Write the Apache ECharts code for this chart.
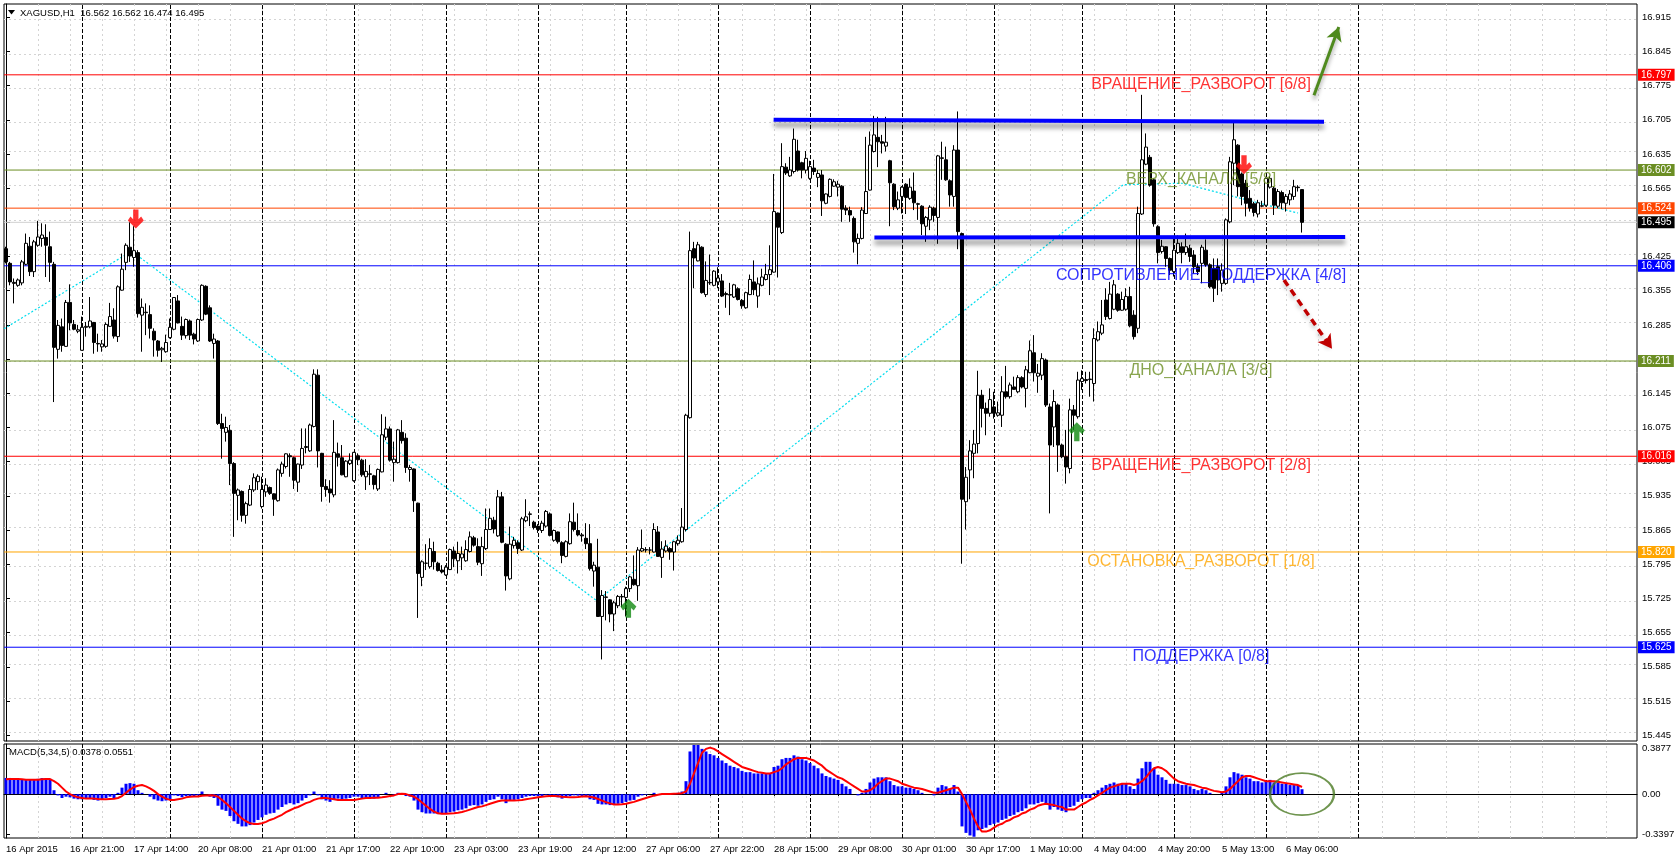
<!DOCTYPE html>
<html><head><meta charset="utf-8">
<script src="https://cdn.jsdelivr.net/npm/echarts@6/dist/echarts.min.js"></script>
<style>html,body{margin:0;padding:0;background:#fff}#c{width:1678px;height:860px}</style>
</head><body><div id="c"></div>
<script>
// ---------- DATA (XAGUSD H1, one value per bar) ----------
const open = [
16.441,16.411,16.372,16.366,16.371,16.409,16.446,16.394,16.448,16.462,
16.464,16.445,16.409,16.235,16.281,16.241,16.331,16.286,16.272,16.233,
16.280,16.281,16.290,16.247,16.240,16.241,16.282,16.295,16.261,16.356,
16.413,16.444,16.423,16.433,16.305,16.310,16.306,16.272,16.252,16.234,
16.230,16.259,16.276,16.334,16.282,16.263,16.293,16.266,16.252,16.295,
16.364,16.320,16.247,16.252,16.083,16.065,16.069,16.001,15.936,15.944,
15.895,15.916,15.947,15.964,15.913,15.943,15.952,15.939,15.925,15.981,
15.995,16.017,16.013,15.963,15.998,16.034,16.027,16.077,16.182,16.022,
15.954,15.949,15.937,16.021,16.013,15.974,16.001,15.966,16.017,16.008,
15.974,15.980,15.976,15.949,15.984,16.055,16.072,16.003,16.003,16.065,
16.053,15.989,15.990,15.920,15.768,15.797,15.790,15.821,15.797,15.783,
15.773,15.784,15.822,15.802,15.808,15.802,15.821,15.849,15.831,15.796,
15.827,15.866,15.885,15.853,15.933,15.836,15.765,15.833,15.839,15.824,
15.884,15.897,15.881,15.873,15.864,15.873,15.898,15.844,15.861,15.839,
15.811,15.837,15.881,15.864,15.855,15.848,15.837,15.781,15.789,15.688,
15.727,15.722,15.693,15.710,15.728,15.727,15.745,15.764,15.751,15.822,
15.824,15.824,15.820,15.861,15.809,15.822,15.827,15.820,15.837,15.841,
15.866,16.095,16.441,16.416,16.444,16.347,16.371,16.366,16.373,16.375,
16.349,16.347,16.342,16.359,16.335,16.320,16.347,16.373,16.344,16.366,
16.378,16.388,16.393,16.514,16.474,16.608,16.590,16.599,16.641,16.617,
16.602,16.585,16.606,16.587,16.592,16.534,16.548,16.569,16.567,16.569,
16.524,16.519,16.503,16.452,16.462,16.513,16.561,16.640,16.669,16.660,
16.651,16.621,16.573,16.524,16.548,16.573,16.544,16.559,16.533,16.528,
16.487,16.500,16.524,16.505,16.627,16.623,16.580,16.548,16.643,16.472,
15.923,15.988,16.022,16.042,16.141,16.114,16.104,16.117,16.100,16.100,
16.148,16.138,16.158,16.148,16.177,16.155,16.187,16.228,16.180,16.182,
16.213,16.117,16.076,16.121,16.039,16.015,15.991,16.111,16.097,16.169,
16.173,16.173,16.165,16.254,16.268,16.336,16.298,16.317,16.348,16.315,
16.317,16.343,16.305,16.278,16.512,16.614,16.628,16.582,16.486,16.435,
16.445,16.421,16.394,16.433,16.445,16.433,16.442,16.428,16.404,16.411,
16.438,16.408,16.401,16.404,16.370,16.370,16.496,16.616,16.653,16.594,
16.575,16.544,16.533,16.512,16.528,16.530,16.567,16.565,16.528,16.556,
16.534,16.541,16.548,16.567,16.562];
const high = [
16.445,16.414,16.380,16.380,16.418,16.472,16.465,16.459,16.498,16.493,
16.491,16.476,16.414,16.295,16.298,16.336,16.368,16.295,16.285,16.302,
16.291,16.342,16.291,16.267,16.254,16.290,16.330,16.319,16.366,16.431,
16.452,16.495,16.487,16.438,16.339,16.329,16.325,16.278,16.254,16.240,
16.265,16.298,16.342,16.346,16.302,16.298,16.296,16.269,16.298,16.368,
16.366,16.325,16.267,16.254,16.103,16.097,16.080,16.004,15.950,15.946,
15.923,15.957,15.981,15.979,15.974,15.971,15.954,15.940,15.991,16.005,
16.022,16.022,16.015,16.001,16.073,16.073,16.083,16.194,16.194,16.023,
15.969,15.967,16.090,16.044,16.039,16.008,16.022,16.025,16.022,16.011,
16.010,15.998,15.978,15.991,16.102,16.097,16.077,16.046,16.072,16.090,
16.063,15.998,15.991,15.921,15.803,15.836,15.848,15.841,15.800,15.793,
15.793,15.827,15.831,15.841,15.831,15.844,15.862,15.853,15.848,15.851,
15.909,15.909,15.892,15.947,15.943,15.838,15.872,15.851,15.844,15.892,
15.928,15.903,15.884,15.877,15.884,15.906,15.901,15.866,15.862,15.842,
15.844,15.899,15.921,15.899,15.859,15.879,15.877,15.800,15.847,15.742,
15.740,15.723,15.720,15.732,15.734,15.749,15.771,15.813,15.830,15.866,
15.830,15.830,15.879,15.873,15.842,15.844,15.830,15.842,15.854,15.910,
16.103,16.476,16.455,16.455,16.446,16.415,16.429,16.397,16.403,16.389,
16.353,16.371,16.369,16.362,16.338,16.353,16.388,16.417,16.382,16.400,
16.410,16.448,16.594,16.515,16.657,16.616,16.629,16.687,16.664,16.619,
16.641,16.621,16.623,16.602,16.602,16.554,16.585,16.583,16.580,16.571,
16.530,16.527,16.507,16.472,16.526,16.670,16.681,16.713,16.711,16.674,
16.711,16.623,16.575,16.558,16.569,16.575,16.585,16.597,16.535,16.530,
16.508,16.530,16.527,16.633,16.660,16.650,16.583,16.653,16.722,16.474,
15.994,16.049,16.070,16.191,16.152,16.126,16.155,16.148,16.128,16.180,
16.201,16.167,16.179,16.182,16.180,16.201,16.253,16.264,16.205,16.227,
16.216,16.124,16.152,16.124,16.042,16.070,16.134,16.121,16.189,16.192,
16.189,16.189,16.278,16.292,16.336,16.360,16.373,16.377,16.350,16.353,
16.360,16.363,16.315,16.527,16.756,16.677,16.633,16.585,16.489,16.459,
16.446,16.423,16.466,16.468,16.454,16.472,16.449,16.438,16.411,16.449,
16.460,16.411,16.421,16.421,16.411,16.503,16.629,16.701,16.655,16.597,
16.582,16.561,16.537,16.541,16.539,16.587,16.590,16.569,16.563,16.560,
16.553,16.561,16.582,16.571,16.562];
const low = [
16.411,16.366,16.329,16.363,16.366,16.407,16.385,16.383,16.445,16.445,
16.383,16.373,16.127,16.216,16.230,16.240,16.274,16.274,16.268,16.232,
16.261,16.278,16.226,16.230,16.230,16.238,16.281,16.257,16.250,16.355,
16.397,16.414,16.404,16.300,16.230,16.264,16.257,16.220,16.220,16.209,
16.228,16.257,16.274,16.288,16.254,16.257,16.254,16.245,16.250,16.293,
16.305,16.250,16.216,16.080,16.011,16.046,15.957,15.851,15.885,15.882,
15.878,15.914,15.943,15.947,15.909,15.933,15.937,15.894,15.923,15.974,
15.991,15.974,15.949,15.943,15.990,16.022,16.025,16.075,15.993,15.923,
15.933,15.921,15.932,15.995,15.977,15.973,15.998,15.964,15.998,15.974,
15.947,15.957,15.948,15.945,15.983,16.049,16.005,15.964,16.001,16.042,
15.982,15.964,15.902,15.685,15.750,15.783,15.786,15.784,15.780,15.776,
15.771,15.783,15.789,15.776,15.783,15.800,15.819,15.831,15.793,15.771,
15.824,15.865,15.858,15.851,15.838,15.741,15.762,15.827,15.816,15.822,
15.881,15.873,15.866,15.859,15.859,15.870,15.852,15.841,15.837,15.797,
15.809,15.835,15.862,15.852,15.841,15.826,15.782,15.749,15.687,15.600,
15.680,15.676,15.658,15.705,15.707,15.688,15.738,15.751,15.720,15.820,
15.819,15.815,15.819,15.810,15.767,15.819,15.804,15.782,15.833,15.839,
15.862,16.093,16.360,16.415,16.349,16.342,16.367,16.364,16.360,16.342,
16.320,16.305,16.340,16.335,16.318,16.318,16.346,16.346,16.320,16.364,
16.376,16.346,16.392,16.382,16.471,16.592,16.588,16.595,16.599,16.585,
16.595,16.582,16.592,16.567,16.508,16.532,16.546,16.568,16.548,16.496,
16.510,16.496,16.433,16.409,16.460,16.512,16.560,16.638,16.608,16.636,
16.640,16.487,16.520,16.520,16.513,16.512,16.541,16.520,16.500,16.469,
16.455,16.479,16.496,16.451,16.582,16.580,16.527,16.527,16.440,15.796,
15.866,15.928,15.971,16.022,16.075,16.059,16.097,16.093,16.097,16.076,
16.134,16.134,16.152,16.145,16.155,16.116,16.186,16.169,16.146,16.172,
16.117,15.899,16.035,15.984,16.012,15.960,15.981,16.070,16.093,16.152,
16.165,16.138,16.128,16.251,16.264,16.295,16.296,16.315,16.312,16.314,
16.314,16.280,16.255,16.268,16.510,16.612,16.568,16.486,16.411,16.431,
16.404,16.387,16.384,16.430,16.411,16.428,16.414,16.390,16.387,16.370,
16.404,16.360,16.332,16.346,16.353,16.367,16.493,16.571,16.548,16.530,
16.507,16.517,16.507,16.505,16.526,16.527,16.564,16.510,16.524,16.522,
16.517,16.530,16.541,16.558,16.474];
const close = [
16.414,16.373,16.370,16.377,16.414,16.452,16.394,16.455,16.465,16.469,
16.448,16.413,16.239,16.284,16.243,16.331,16.289,16.276,16.275,16.280,
16.282,16.293,16.249,16.246,16.246,16.286,16.302,16.262,16.363,16.399,
16.448,16.426,16.437,16.308,16.321,16.311,16.278,16.254,16.233,16.237,
16.249,16.280,16.341,16.289,16.264,16.296,16.264,16.256,16.296,16.366,
16.307,16.252,16.256,16.083,16.073,16.075,16.001,15.940,15.947,15.895,
15.919,15.948,15.972,15.975,15.948,15.957,15.940,15.928,15.988,16.000,
16.021,16.015,15.967,16.000,16.032,16.036,16.080,16.184,16.027,15.954,
15.948,15.941,16.024,16.014,15.978,16.006,16.008,16.024,16.009,15.978,
15.985,15.979,15.958,15.989,16.060,16.072,16.008,16.010,16.070,16.048,
15.993,15.993,15.925,15.776,15.800,15.797,15.827,15.800,15.782,15.779,
15.789,15.825,15.806,15.817,15.816,15.825,15.851,15.834,15.799,15.831,
15.866,15.889,15.867,15.933,15.840,15.771,15.836,15.844,15.827,15.888,
15.892,15.898,15.870,15.866,15.879,15.903,15.854,15.864,15.841,15.813,
15.841,15.882,15.866,15.855,15.853,15.837,15.786,15.793,15.688,15.731,
15.728,15.693,15.716,15.729,15.729,15.745,15.769,15.753,15.824,15.827,
15.825,15.824,15.866,15.811,15.826,15.832,15.820,15.841,15.844,15.871,
16.100,16.437,16.422,16.449,16.351,16.376,16.372,16.395,16.381,16.344,
16.347,16.346,16.367,16.337,16.324,16.351,16.378,16.357,16.369,16.383,
16.388,16.398,16.517,16.485,16.609,16.596,16.602,16.665,16.602,16.602,
16.626,16.609,16.599,16.595,16.539,16.553,16.583,16.578,16.573,16.522,
16.520,16.510,16.455,16.462,16.520,16.558,16.653,16.674,16.660,16.657,
16.659,16.576,16.527,16.541,16.567,16.546,16.567,16.535,16.532,16.492,
16.505,16.526,16.509,16.631,16.626,16.582,16.551,16.643,16.476,15.928,
15.973,16.027,16.041,16.141,16.114,16.104,16.132,16.104,16.105,16.148,
16.138,16.162,16.153,16.177,16.158,16.193,16.232,16.187,16.186,16.216,
16.121,16.039,16.128,16.039,16.015,15.994,16.111,16.100,16.172,16.175,
16.171,16.174,16.257,16.271,16.285,16.302,16.348,16.367,16.315,16.337,
16.343,16.283,16.261,16.513,16.623,16.649,16.571,16.492,16.433,16.446,
16.421,16.397,16.438,16.452,16.433,16.445,16.425,16.404,16.394,16.444,
16.408,16.363,16.360,16.377,16.397,16.500,16.619,16.664,16.568,16.548,
16.534,16.524,16.515,16.535,16.529,16.585,16.585,16.530,16.558,16.535,
16.548,16.553,16.568,16.566,16.495];

// MACD(5,34,5): main (histogram) and signal, one value per bar
const macdMain = [
0.125,0.125,0.122,0.118,0.112,0.112,0.112,0.112,0.118,0.124,0.124,0.118,
0.03,-0.01,-0.03,-0.02,-0.025,-0.035,-0.04,-0.04,-0.035,-0.03,-0.045,-0.05,
-0.045,-0.03,-0.02,-0.03,0.01,0.05,0.08,0.085,0.08,0.03,0.01,0.0,
-0.02,-0.04,-0.05,-0.055,-0.05,-0.04,-0.01,-0.015,-0.025,-0.015,-0.02,-0.02,
-0.01,0.02,0.0,-0.02,-0.03,-0.09,-0.12,-0.13,-0.17,-0.21,-0.23,-0.25,
-0.25,-0.24,-0.22,-0.2,-0.18,-0.16,-0.15,-0.145,-0.12,-0.1,-0.08,-0.07,
-0.08,-0.07,-0.05,-0.03,-0.01,0.02,-0.01,-0.04,-0.05,-0.06,-0.04,-0.035,
-0.04,-0.035,-0.03,-0.02,-0.02,-0.03,-0.03,-0.03,-0.035,-0.025,0.0,0.01,
0.0,-0.005,0.01,0.005,-0.015,-0.02,-0.05,-0.12,-0.14,-0.15,-0.15,-0.15,
-0.155,-0.155,-0.15,-0.14,-0.135,-0.125,-0.12,-0.11,-0.09,-0.085,-0.09,-0.08,
-0.06,-0.045,-0.04,-0.02,-0.04,-0.07,-0.05,-0.045,-0.04,-0.03,-0.02,-0.015,
-0.015,-0.015,-0.015,-0.005,-0.015,-0.02,-0.025,-0.035,-0.03,-0.015,-0.01,-0.012,
-0.015,-0.02,-0.04,-0.045,-0.075,-0.08,-0.08,-0.085,-0.08,-0.075,-0.07,-0.06,
-0.05,-0.045,-0.02,-0.01,-0.005,0.0,0.01,0.0,-0.005,0.0,0.0,0.005,
0.01,0.02,0.1,0.33,0.38,0.38,0.35,0.33,0.31,0.30,0.28,0.26,
0.24,0.22,0.21,0.2,0.18,0.17,0.17,0.16,0.16,0.16,0.16,0.16,
0.21,0.22,0.27,0.28,0.28,0.3,0.29,0.27,0.26,0.24,0.22,0.2,
0.16,0.14,0.13,0.12,0.11,0.08,0.06,0.04,0.0,-0.01,0.01,0.04,
0.09,0.12,0.13,0.13,0.13,0.1,0.07,0.06,0.06,0.05,0.05,0.04,
0.03,0.01,0.0,0.0,-0.01,0.05,0.07,0.06,0.04,0.07,0.02,-0.25,
-0.3,-0.32,-0.33,-0.28,-0.27,-0.26,-0.24,-0.23,-0.22,-0.2,-0.19,-0.17,
-0.16,-0.14,-0.13,-0.11,-0.08,-0.08,-0.07,-0.06,-0.08,-0.12,-0.1,-0.12,
-0.13,-0.14,-0.1,-0.09,-0.06,-0.04,-0.03,-0.03,0.01,0.03,0.05,0.07,
0.08,0.09,0.08,0.08,0.08,0.06,0.04,0.12,0.2,0.25,0.25,0.2,
0.15,0.13,0.11,0.08,0.08,0.08,0.07,0.07,0.06,0.04,0.03,0.04,
0.03,0.01,0.0,0.0,0.01,0.06,0.13,0.17,0.16,0.15,0.13,0.12,
0.1,0.1,0.09,0.1,0.11,0.09,0.09,0.08,0.08,0.07,0.07,0.07,
0.0378];
const macdSignal = [
0.115,0.116,0.117,0.116,0.114,0.112,0.111,0.111,0.112,0.114,0.116,0.116,
0.1,0.08,0.05,0.02,0.0,-0.015,-0.025,-0.03,-0.035,-0.035,-0.035,-0.038,
-0.04,-0.04,-0.038,-0.036,-0.03,-0.015,0.01,0.035,0.055,0.065,0.07,0.06,
0.045,0.025,0.0,-0.02,-0.035,-0.045,-0.045,-0.04,-0.035,-0.025,-0.02,-0.018,
-0.018,-0.012,-0.01,-0.008,-0.01,-0.02,-0.045,-0.07,-0.1,-0.13,-0.16,-0.19,
-0.21,-0.225,-0.232,-0.232,-0.225,-0.215,-0.2,-0.19,-0.175,-0.16,-0.14,-0.125,
-0.11,-0.1,-0.085,-0.07,-0.06,-0.045,-0.035,-0.03,-0.03,-0.035,-0.04,-0.045,
-0.045,-0.045,-0.045,-0.045,-0.04,-0.035,-0.03,-0.03,-0.028,-0.028,-0.025,-0.02,
-0.015,-0.01,0.0,0.002,0.0,-0.01,-0.02,-0.04,-0.065,-0.09,-0.115,-0.135,
-0.148,-0.152,-0.152,-0.15,-0.148,-0.144,-0.138,-0.13,-0.12,-0.11,-0.1,-0.095,
-0.085,-0.075,-0.065,-0.055,-0.05,-0.05,-0.05,-0.05,-0.048,-0.045,-0.04,-0.035,
-0.03,-0.025,-0.02,-0.017,-0.015,-0.015,-0.016,-0.02,-0.023,-0.025,-0.024,-0.022,
-0.018,-0.016,-0.02,-0.026,-0.038,-0.05,-0.062,-0.072,-0.08,-0.08,-0.078,-0.074,
-0.067,-0.06,-0.05,-0.04,-0.03,-0.02,-0.012,-0.005,0.0,0.0,0.0,0.002,
0.004,0.007,0.02,0.08,0.16,0.24,0.32,0.35,0.36,0.35,0.33,0.31,
0.29,0.27,0.25,0.23,0.21,0.2,0.19,0.18,0.17,0.165,0.16,0.16,
0.17,0.18,0.2,0.23,0.25,0.27,0.28,0.28,0.28,0.27,0.26,0.24,
0.22,0.19,0.17,0.15,0.13,0.12,0.1,0.08,0.06,0.04,0.02,0.02,
0.03,0.05,0.08,0.1,0.12,0.12,0.11,0.1,0.08,0.07,0.06,0.05,
0.045,0.04,0.03,0.02,0.01,0.01,0.02,0.03,0.04,0.05,0.05,0.0,
-0.06,-0.12,-0.19,-0.25,-0.29,-0.29,-0.28,-0.26,-0.24,-0.23,-0.21,-0.2,
-0.18,-0.17,-0.15,-0.14,-0.12,-0.11,-0.09,-0.08,-0.075,-0.08,-0.085,-0.095,
-0.1,-0.12,-0.12,-0.12,-0.1,-0.08,-0.065,-0.045,-0.03,-0.01,0.01,0.03,
0.05,0.06,0.07,0.08,0.08,0.08,0.07,0.08,0.1,0.13,0.17,0.2,
0.21,0.2,0.18,0.15,0.12,0.1,0.09,0.08,0.075,0.07,0.06,0.05,
0.045,0.035,0.025,0.02,0.015,0.02,0.04,0.07,0.1,0.13,0.14,0.14,
0.13,0.12,0.11,0.1,0.1,0.1,0.095,0.09,0.085,0.08,0.075,0.07,
0.0551];

// time-axis labels, one every 16 bars
const timeLabels = ['16 Apr 2015','16 Apr 21:00','17 Apr 14:00','20 Apr 08:00','21 Apr 01:00','21 Apr 17:00',
 '22 Apr 10:00','23 Apr 03:00','23 Apr 19:00','24 Apr 12:00','27 Apr 06:00','27 Apr 22:00','28 Apr 15:00',
 '29 Apr 08:00','30 Apr 01:00','30 Apr 17:00','1 May 10:00','4 May 04:00','4 May 20:00','5 May 13:00','6 May 06:00'];
const labelStep = 16;
// price-axis tick labels
const priceTicks = [15.445,15.515,15.585,15.655,15.725,15.795,15.865,15.935,16.005,16.075,16.145,
 16.215,16.285,16.355,16.425,16.495,16.565,16.635,16.705,16.775,16.845,16.915];
const macdTickText = ['-0.3397','0.00','0.3877'];
const macdTickAt = [-0.309, 0, 0.357];
// first bar of each trading day (period separators)
const daySeparators = [19,41,64,87,110,133,155,178,201,224,247,269,292,315,338];
// Murrey math levels
const levelValues = [16.797,16.602,16.524,16.406,16.211,16.016,15.820,15.625];
const levelColors = ['#FF0000','#6B8E23','#FF4500','#0000FF','#6B8E23','#FF0000','#FFA500','#0000FF'];
const levelTexts = ['ВРАЩЕНИЕ_РАЗВОРОТ [6/8]','ВЕРХ_КАНАЛА [5/8]','','СОПРОТИВЛЕНИЕ_ПОДДЕРЖКА [4/8]',
 'ДНО_КАНАЛА [3/8]','ВРАЩЕНИЕ_РАЗВОРОТ [2/8]','ОСТАНОВКА_РАЗВОРОТ [1/8]','ПОДДЕРЖКА [0/8]'];
const levelTextBar = 298.75;
// drawn objects (bar index, price)
const zigzag = [[-0.5,16.277],[31.4,16.436],[147.7,15.720],[279.3,16.572],[294,16.575],[323,16.514]];
const channelTop = [[191.9,16.705],[329.5,16.701]];
const channelBottom = [[217.1,16.464],[334.8,16.465]];
const bigUpArrow = [[327,16.755],[333.2,16.895]];
const bigDownArrow = [[319.5,16.377],[331.5,16.236]];
const sellArrows = [[32.45,16.502],[309.5,16.613]];
const buyArrows = [[155.6,15.705],[267.7,16.066]];
const macdCircle = [324, 0.0];

// ---------- CHART ----------
const FONT = '"Liberation Sans", Arial, sans-serif';
const N = close.length;
const last = N - 1;
const gridBars = []; for (let b = 8; b <= 400; b += 8) gridBars.push(b);
const labelBars = timeLabels.map((_, k) => k * labelStep);
const XMIN = -0.5, XMAX = 407.75;

const vGridLines = gridBars.map(b => ({xAxis: b}));
const sepLines = daySeparators.map(b => ({xAxis: b}));
const arrowPath = 'path://M3,0L7,0L7,7.2L9,5.2L11,8.2L5,14L-1,8.2L1,5.2L3,7.2Z';

function hLine(v, color, boxColor, z) {
  return {
    type: 'line', xAxisIndex: 0, yAxisIndex: 0, silent: true, z: z, symbol: 'none', showSymbol: false,
    data: [[XMIN, v], [XMAX, v]], clip: false,
    lineStyle: {color: color, width: 1, type: 'solid'},
    endLabel: {show: true, distance: 1, formatter: v.toFixed(3), backgroundColor: boxColor,
      color: '#fff', fontSize: 10, fontFamily: FONT, padding: [1, 3, 1, 3], lineHeight: 10}
  };
}
const levelSeries = levelValues.map((v, k) => hLine(v, levelColors[k], levelColors[k], 3));
levelSeries.push(hLine(close[last], '#D0D0D0', '#000', 3));

const option = {
  animation: false,
  backgroundColor: '#fff',
  grid: [
    {left: 4, top: 4, width: 1633, height: 737, show: true, borderColor: '#000', borderWidth: 1, backgroundColor: '#fff'},
    {left: 4, top: 744, width: 1633, height: 94, show: true, borderColor: '#000', borderWidth: 1, backgroundColor: '#fff'}
  ],
  xAxis: [
    {type: 'value', gridIndex: 0, min: XMIN, max: XMAX, axisLine: {show: false}, axisTick: {show: false},
      axisLabel: {show: false}, splitLine: {show: false}},
    {type: 'value', gridIndex: 1, min: XMIN, max: XMAX,
      axisLine: {show: true, lineStyle: {color: '#000'}},
      axisTick: {show: true, customValues: labelBars, length: 3, lineStyle: {color: '#000'}},
      axisLabel: {show: true, customValues: labelBars, formatter: v => timeLabels[Math.round(v / labelStep)] || '',
        align: 'left', margin: 6, fontSize: 9.5, color: '#000', fontFamily: FONT},
      splitLine: {show: false}}
  ],
  yAxis: [
    {type: 'value', gridIndex: 0, position: 'right', min: 15.433, max: 16.942,
      axisLine: {show: true, lineStyle: {color: '#000'}},
      axisTick: {show: true, customValues: priceTicks, length: 4, lineStyle: {color: '#000'}},
      axisLabel: {show: true, customValues: priceTicks, formatter: v => v.toFixed(3), fontSize: 9.5,
        margin: 5, color: '#000', fontFamily: FONT},
      splitLine: {show: false}},
    {type: 'value', gridIndex: 1, position: 'right', min: -0.3397, max: 0.3877,
      axisLine: {show: true, lineStyle: {color: '#000'}},
      axisTick: {show: true, customValues: macdTickAt, length: 4, lineStyle: {color: '#000'}},
      axisLabel: {show: true, customValues: macdTickAt,
        formatter: v => macdTickText[macdTickAt.indexOf(macdTickAt.reduce((a, b) => Math.abs(b - v) < Math.abs(a - v) ? b : a))],
        fontSize: 9.5, margin: 5, color: '#000', fontFamily: FONT},
      splitLine: {show: false}}
  ],
  series: [
    // grid & separators, main panel
    {type: 'line', xAxisIndex: 0, yAxisIndex: 0, data: [], silent: true,
      markLine: {silent: true, z: 1, symbol: ['none', 'none'], label: {show: false}, animation: false,
        lineStyle: {color: '#D4D4D4', width: 1, type: [2, 3]},
        data: vGridLines.concat(priceTicks.map(v => ({yAxis: v})))}},
    {type: 'line', xAxisIndex: 0, yAxisIndex: 0, data: [], silent: true,
      markLine: {silent: true, z: 2, symbol: ['none', 'none'], label: {show: false}, animation: false,
        lineStyle: {color: '#000', width: 1, type: [4, 2]}, data: sepLines}},
  ].concat(levelSeries).concat([
    // zigzag
    {type: 'line', xAxisIndex: 0, yAxisIndex: 0, data: zigzag, z: 4, silent: true, symbol: 'none',
      lineStyle: {color: '#00DDEE', width: 1.2, type: [2, 2]}},
    // candles
    {type: 'candlestick', xAxisIndex: 0, yAxisIndex: 0, z: 10, silent: true, barWidth: 3,
      data: open.map((o, i) => [i, o, close[i], low[i], high[i]]), encode: {x: 0, y: [1, 2, 3, 4]},
      itemStyle: {color: '#fff', color0: '#000', borderColor: '#000', borderColor0: '#000', borderWidth: 1}},
    // channel lines and big arrows
    {type: 'line', xAxisIndex: 0, yAxisIndex: 0, data: [], silent: true,
      markLine: {silent: true, z: 11, symbol: ['none', 'none'], label: {show: false}, animation: false,
        data: [
          [{coord: channelTop[0]}, {coord: channelTop[1]}],
          [{coord: channelBottom[0]}, {coord: channelBottom[1]}]
        ],
        lineStyle: {color: '#0000FF', width: 4, type: 'solid', shadowColor: 'rgba(0,0,0,0.45)', shadowBlur: 5, shadowOffsetY: 5}}},
    {type: 'line', xAxisIndex: 0, yAxisIndex: 0, data: [], silent: true,
      markLine: {silent: true, z: 11, symbol: ['none', 'arrow'], symbolSize: [12, 14], label: {show: false}, animation: false,
        data: [
          [{coord: bigUpArrow[0], lineStyle: {color: '#4F8A1E', width: 3, type: 'solid', shadowColor: 'rgba(0,0,0,0.35)', shadowBlur: 4, shadowOffsetY: 4}},
           {coord: bigUpArrow[1]}],
          [{coord: bigDownArrow[0], lineStyle: {color: '#C00000', width: 3.5, type: [7, 5], shadowColor: 'rgba(0,0,0,0.25)', shadowBlur: 4, shadowOffsetY: 3}},
           {coord: bigDownArrow[1]}]
        ]}},
    // signal arrows
    {type: 'scatter', xAxisIndex: 0, yAxisIndex: 0, z: 12, silent: true, data: sellArrows,
      symbol: arrowPath, symbolSize: [16, 19], symbolKeepAspect: false, itemStyle: {color: '#FF0000'}},
    {type: 'scatter', xAxisIndex: 0, yAxisIndex: 0, z: 12, silent: true, data: buyArrows,
      symbol: arrowPath, symbolSize: [16, 19], symbolRotate: 180, symbolKeepAspect: false, itemStyle: {color: '#108A10'}},
    // level texts
    {type: 'scatter', xAxisIndex: 0, yAxisIndex: 0, z: 13, silent: true, symbolSize: 1,
      itemStyle: {color: 'rgba(0,0,0,0)'},
      data: levelValues.map((v, k) => ({value: [levelTextBar, v], label: {show: !!levelTexts[k], formatter: levelTexts[k],
        color: levelColors[k], position: 'bottom', distance: 1, fontSize: 16, fontFamily: FONT}}))},
    // MACD panel grid & separators
    {type: 'line', xAxisIndex: 1, yAxisIndex: 1, data: [], silent: true,
      markLine: {silent: true, z: 1, symbol: ['none', 'none'], label: {show: false}, animation: false,
        lineStyle: {color: '#D4D4D4', width: 1, type: [2, 3]}, data: vGridLines}},
    {type: 'line', xAxisIndex: 1, yAxisIndex: 1, data: [], silent: true,
      markLine: {silent: true, z: 2, symbol: ['none', 'none'], label: {show: false}, animation: false,
        lineStyle: {color: '#000', width: 1, type: [4, 2]}, data: sepLines.concat([{yAxis: 0, lineStyle: {type: [3, 3]}}])}},
    {type: 'bar', xAxisIndex: 1, yAxisIndex: 1, z: 5, silent: true, barWidth: 3,
      data: macdMain.map((v, i) => [i, v]), itemStyle: {color: '#0000FF'}},
    {type: 'line', xAxisIndex: 1, yAxisIndex: 1, z: 6, silent: true, symbol: 'none',
      data: macdSignal.map((v, i) => [i, v]), lineStyle: {color: '#FF0000', width: 2}},
    {type: 'scatter', xAxisIndex: 1, yAxisIndex: 1, z: 7, silent: true, data: [macdCircle],
      symbol: 'circle', symbolSize: [64, 42], itemStyle: {color: 'rgba(0,0,0,0)', borderColor: '#4B7A23', borderWidth: 2}}
  ]),
  graphic: [
    {type: 'polygon', shape: {points: [[8, 10], [15, 10], [11.5, 14.5]]}, style: {fill: '#000'}, z: 100},
    {type: 'text', x: 20, y: 13, z: 100, style: {
      text: 'XAGUSD,H1  ' + [open[last], high[last], low[last], close[last]].map(v => v.toFixed(3)).join(' '),
      font: '9.5px ' + FONT, fill: '#000', verticalAlign: 'middle'}},
    {type: 'text', x: 9, y: 752, z: 100, style: {
      text: 'MACD(5,34,5) ' + macdMain[last].toFixed(4) + ' ' + macdSignal[last].toFixed(4),
      font: '9.5px ' + FONT, fill: '#000', verticalAlign: 'middle'}}
  ]
};
const chart = echarts.init(document.getElementById('c'));
chart.setOption(option);
</script>
</body></html>
